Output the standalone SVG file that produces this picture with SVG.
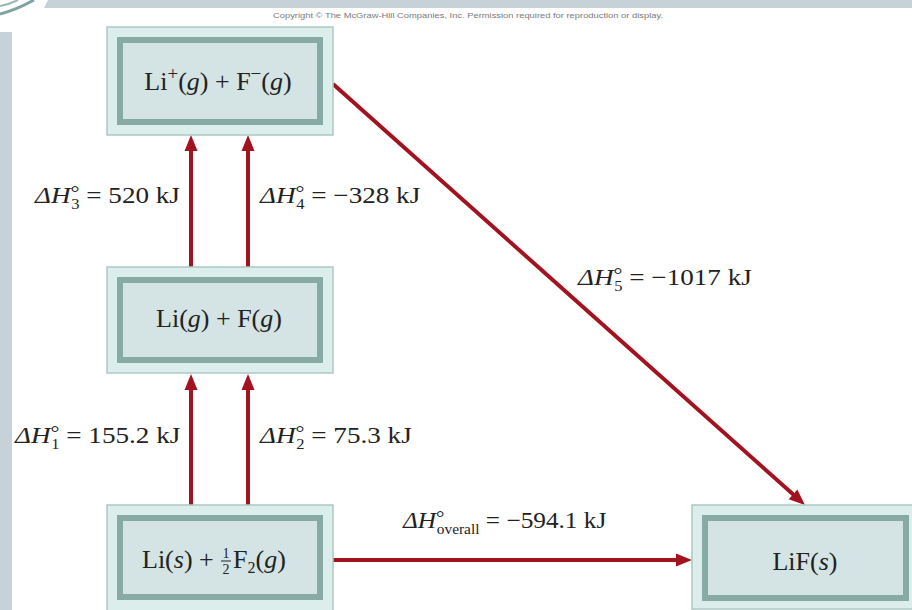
<svg xmlns="http://www.w3.org/2000/svg" width="912" height="610" viewBox="0 0 912 610">
<defs>
<style>
.outer{fill:#dbeeeb;stroke:#adc8c4;stroke-width:1.5}
.inner{fill:#d4e3e3;stroke:#88aaa4;stroke-width:6}
.bt{font-family:"Liberation Serif","Times New Roman",serif;font-size:26px;fill:#222}
.lb{font-family:"Liberation Serif","Times New Roman",serif;font-size:23px;fill:#222}
.it{font-style:italic}
.sm{font-size:14px}
.dg{font-size:19px}
.arr{stroke:#a3121f;stroke-width:4;fill:none}
</style>
<marker id="ah" markerUnits="userSpaceOnUse" markerWidth="16" markerHeight="14" refX="6" refY="7" orient="auto">
<path d="M0,0.5 L16,7 L0,13.5 z" fill="#a3121f"/>
</marker>
</defs>
<rect width="912" height="610" fill="#ffffff"/>
<g id="frame">
<path d="M48,0 H912 V8 H44 z" fill="#c6d1d8"/>
<rect x="0" y="32" width="12" height="578" fill="#c6d1d8"/>
<path d="M0,14 Q16,10 34,0" stroke="#7fa3a3" stroke-width="3" fill="none"/>
<path d="M0,6 Q10,4 18,0" stroke="#9bb8b8" stroke-width="2" fill="none"/>
<text x="273" y="18" font-family="Liberation Sans,Arial,sans-serif" font-size="7.5" fill="#7a7a7a" textLength="390" lengthAdjust="spacingAndGlyphs">Copyright © The McGraw-Hill Companies, Inc. Permission required for reproduction or display.</text>
</g>
<g id="connectors">
<line class="arr" x1="191" y1="267" x2="191" y2="145" marker-end="url(#ah)"/>
<line class="arr" x1="248" y1="267" x2="248" y2="145" marker-end="url(#ah)"/>
<line class="arr" x1="191" y1="505" x2="191" y2="384" marker-end="url(#ah)"/>
<line class="arr" x1="248" y1="505" x2="248" y2="384" marker-end="url(#ah)"/>
<line class="arr" x1="333" y1="560" x2="682" y2="560" marker-end="url(#ah)"/>
<line class="arr" x1="333" y1="84" x2="797.5" y2="498.3" marker-end="url(#ah)"/>
</g>
<g id="labels">
<text class="lb" x="35" y="203" transform="translate(35,0) scale(1.18,1) translate(-35,0)"><tspan class="it">ΔH</tspan><tspan class="dg" dy="-4">°</tspan><tspan class="sm" dx="-7" dy="10">3</tspan><tspan dy="-6"> = 520 kJ</tspan></text>
<text class="lb" x="260" y="203" transform="translate(260,0) scale(1.18,1) translate(-260,0)"><tspan class="it">ΔH</tspan><tspan class="dg" dy="-4">°</tspan><tspan class="sm" dx="-7" dy="10">4</tspan><tspan dy="-6"> = −328 kJ</tspan></text>
<text class="lb" x="15" y="443" transform="translate(15,0) scale(1.18,1) translate(-15,0)"><tspan class="it">ΔH</tspan><tspan class="dg" dy="-4">°</tspan><tspan class="sm" dx="-7" dy="10">1</tspan><tspan dy="-6"> = 155.2 kJ</tspan></text>
<text class="lb" x="260" y="443" transform="translate(260,0) scale(1.18,1) translate(-260,0)"><tspan class="it">ΔH</tspan><tspan class="dg" dy="-4">°</tspan><tspan class="sm" dx="-7" dy="10">2</tspan><tspan dy="-6"> = 75.3 kJ</tspan></text>
<text class="lb" x="578" y="285" transform="translate(578,0) scale(1.18,1) translate(-578,0)"><tspan class="it">ΔH</tspan><tspan class="dg" dy="-4">°</tspan><tspan class="sm" dx="-7" dy="10">5</tspan><tspan dy="-6"> = −1017 kJ</tspan></text>
<text class="lb" x="403" y="528" transform="translate(403,0) scale(1.1,1) translate(-403,0)"><tspan class="it">ΔH</tspan><tspan class="dg" dy="-4">°</tspan><tspan class="sm" dx="-7" dy="10">overall</tspan><tspan dy="-6"> = −594.1 kJ</tspan></text>
</g>
<g id="node-top">
<rect class="outer" x="107" y="27" width="226" height="108"/>
<rect class="inner" x="120" y="40" width="200" height="82"/>
<text class="bt" x="218" y="90" text-anchor="middle">Li<tspan font-size="19" dy="-10">+</tspan><tspan dy="10">(</tspan><tspan class="it">g</tspan>) + F<tspan font-size="19" dy="-10">−</tspan><tspan dy="10">(</tspan><tspan class="it">g</tspan>)</text>
</g>
<g id="node-middle">
<rect class="outer" x="107" y="267" width="226" height="106"/>
<rect class="inner" x="120" y="280" width="200" height="80"/>
<text class="bt" x="219" y="327" text-anchor="middle">Li(<tspan class="it">g</tspan>) + F(<tspan class="it">g</tspan>)</text>
</g>
<g id="node-bottom">
<rect class="outer" x="107" y="505" width="226" height="108"/>
<rect class="inner" x="120" y="518" width="200" height="79"/>
<text class="bt" x="142" y="568">Li(<tspan class="it">s</tspan>) +</text>
<text class="bt sm" x="226" y="558" text-anchor="middle">1</text>
<line x1="221" y1="561" x2="231" y2="561" stroke="#222" stroke-width="1"/>
<text class="bt sm" x="226" y="574" text-anchor="middle">2</text>
<text class="bt" x="233" y="568">F<tspan font-size="16" dy="5">2</tspan><tspan dy="-5">(</tspan><tspan class="it">g</tspan>)</text>
</g>
<g id="node-lif">
<rect class="outer" x="692" y="505" width="224" height="104"/>
<rect class="inner" x="705" y="518" width="201" height="80"/>
<text class="bt" x="805" y="570" text-anchor="middle">LiF(<tspan class="it">s</tspan>)</text>
</g>
</svg>
